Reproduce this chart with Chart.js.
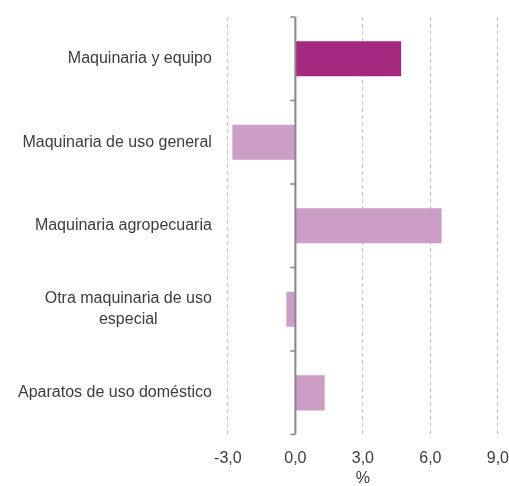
<!DOCTYPE html>
<html>
<head>
<meta charset="utf-8">
<script src="https://cdn.jsdelivr.net/npm/chart.js@4/dist/chart.umd.min.js"></script>
<style>
  html, body { margin: 0; padding: 0; background: #ffffff; }
  #wrap { width: 509px; height: 486px; position: relative; }
</style>
</head>
<body>
<div id="wrap"><canvas id="c"></canvas></div>
<script>
const categories = [
  "Maquinaria y equipo",
  "Maquinaria de uso general",
  "Maquinaria agropecuaria",
  ["Otra maquinaria de uso", "especial"],
  "Aparatos de uso doméstico"
];
const values = [4.7, -2.8, 6.5, -0.4, 1.3];
const xTicks = [-3, 0, 3, 6, 9];
const xTitle = "%";

const FONT = '"Liberation Sans", Arial, Helvetica, sans-serif';
const TEXT = '#3d3d3d';

const customDraw = {
  id: 'customDraw',
  afterDatasetsDraw(chart) {
    const ctx = chart.ctx;
    const xs = chart.scales.x, ys = chart.scales.y;
    const area = chart.chartArea;
    const x0 = xs.getPixelForValue(0);
    ctx.save();
    ctx.strokeStyle = '#878787';
    ctx.lineWidth = 2;
    ctx.beginPath();
    ctx.moveTo(x0, area.top);
    ctx.lineTo(x0, area.bottom);
    ctx.stroke();
    const n = categories.length;
    const bounds = [area.top];
    for (let i = 0; i < n - 1; i++) {
      bounds.push((ys.getPixelForValue(i) + ys.getPixelForValue(i + 1)) / 2);
    }
    bounds.push(area.bottom);
    ctx.lineWidth = 1.5;
    ctx.beginPath();
    bounds.forEach(b => {
      ctx.moveTo(x0 - 5, b);
      ctx.lineTo(x0, b);
    });
    ctx.stroke();
    ctx.restore();
  },
  afterDraw(chart) {
    const ctx = chart.ctx;
    const ys = chart.scales.y;
    const area = chart.chartArea;
    ctx.save();
    ctx.font = '16px ' + FONT;
    ctx.fillStyle = TEXT;
    ctx.textAlign = 'center';
    ctx.textBaseline = 'middle';
    const right = area.left - 16;
    const lh = 21;
    categories.forEach((lab, i) => {
      const lines = Array.isArray(lab) ? lab : [lab];
      const w = Math.max(...lines.map(l => ctx.measureText(l).width));
      const cx = right - w / 2;
      const cy = ys.getPixelForValue(i);
      const start = cy - (lines.length - 1) * lh / 2;
      lines.forEach((l, j) => ctx.fillText(l, cx, start + j * lh));
    });
    ctx.restore();
  }
};

new Chart(document.getElementById('c'), {
  type: 'bar',
  data: {
    labels: categories,
    datasets: [{
      data: values,
      backgroundColor: (c) => c.dataIndex === 0 ? '#a52a7f' : '#cc9dc5',
      borderWidth: 0,
      categoryPercentage: 1,
      barPercentage: 0.42
    }]
  },
  options: {
    indexAxis: 'y',
    responsive: true,
    maintainAspectRatio: false,
    animation: false,
    layout: { padding: { left: 34, right: 11, top: 17, bottom: 0 } },
    plugins: { legend: { display: false }, tooltip: { enabled: false } },
    scales: {
      x: {
        min: -3, max: 9,
        afterBuildTicks(scale) { scale.ticks = xTicks.map(v => ({ value: v })); },
        ticks: {
          color: TEXT,
          font: { family: FONT, size: 16 },
          padding: 0,
          maxRotation: 0,
          callback: (v) => Number(v).toFixed(1).replace('.', ',')
        },
        grid: {
          drawTicks: true,
          tickLength: 14,
          tickColor: 'rgba(0,0,0,0)',
          color: (c) => (c.tick && c.tick.value === 0) ? 'rgba(0,0,0,0)' : '#c4c4c4',
          lineWidth: 1
        },
        border: { display: false, dash: [4, 3] },
        title: {
          display: true, text: xTitle, color: TEXT,
          font: { family: FONT, size: 16 },
          padding: { top: 1, bottom: -2 }
        }
      },
      y: {
        ticks: {
          color: 'rgba(0,0,0,0)',
          font: { family: FONT, size: 16 },
          padding: 0
        },
        grid: { display: false, drawTicks: false },
        border: { display: false }
      }
    }
  },
  plugins: [customDraw]
});
</script>
</body>
</html>
